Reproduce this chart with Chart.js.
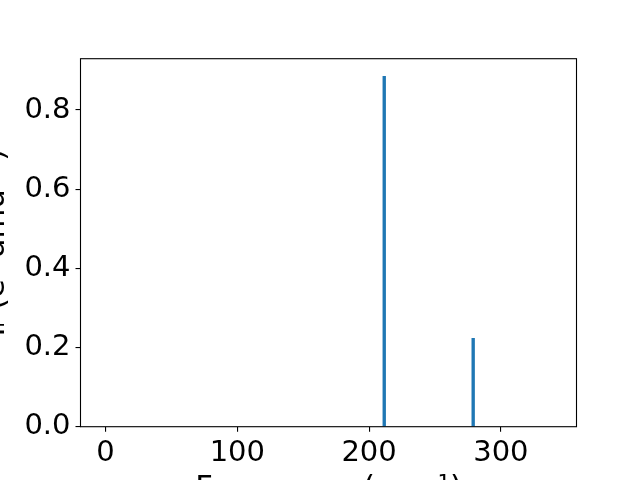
<!DOCTYPE html>
<html>
<head>
<meta charset="utf-8">
<script src="https://cdn.jsdelivr.net/npm/chart.js@4/dist/chart.umd.min.js"></script>
<style>
  html, body { margin: 0; padding: 0; background: #ffffff; overflow: hidden; }
  #c { display: block; }
</style>
</head>
<body>
<canvas id="c" width="640" height="480"></canvas>
<script>
// Data
const frequencies = [211.5, 279.0];      // cm^-1
const intensities = [0.885, 0.223];      // IR intensity
const yTickValues = [0.0, 0.2, 0.4, 0.6, 0.8];
const xTickValues = [0, 100, 200, 300];
const xTitle = 'Frequency (cm\u207B\u00B9)';
const yTitle = 'I\u1D63 (e\u00B2 amu\u207B\u00B9)';

const points = frequencies.map((f, i) => ({ x: f, y: intensities[i] }));

const frame = {
  id: 'frame',
  afterDatasetsDraw(chart) {
    const a = chart.chartArea, ctx = chart.ctx;
    ctx.save();
    ctx.strokeStyle = '#000';
    ctx.lineWidth = 1.1;
    ctx.strokeRect(a.left, a.top, a.right - a.left, a.bottom - a.top);
    ctx.restore();
  }
};

const tickFont = { family: 'DejaVu Sans', size: 29 };
const titleFont = { family: 'DejaVu Sans', size: 30.6 };

new Chart(document.getElementById('c'), {
  type: 'bar',
  data: {
    datasets: [{
      data: points,
      backgroundColor: '#1f77b4',
      borderWidth: 0,
      barThickness: 2.7,
      grouped: false
    }]
  },
  options: {
    responsive: false,
    animation: false,
    events: [],
    layout: { padding: { left: 0, top: 58.7, right: 63.5, bottom: 0 } },
    plugins: { legend: { display: false }, tooltip: { enabled: false } },
    scales: {
      x: {
        type: 'linear',
        offset: false,
        min: -19,
        max: 357.4,
        afterBuildTicks(scale) { scale.ticks = xTickValues.map(v => ({ value: v })); },
        afterFit(scale) { scale.height = 53.3; },
        ticks: {
          font: tickFont, color: '#000', padding: 4, maxRotation: 0,
          includeBounds: false,
          callback: v => String(v)
        },
        grid: {
          display: true, offset: false, drawOnChartArea: false, drawTicks: true,
          tickLength: 5, tickColor: '#000', lineWidth: 1.1
        },
        border: { display: false },
        title: {
          display: true, text: xTitle, color: '#000', font: titleFont,
          padding: { top: 0, bottom: -27.4 }
        }
      },
      y: {
        type: 'linear',
        min: 0,
        max: 0.9296,
        afterBuildTicks(scale) { scale.ticks = yTickValues.map(v => ({ value: v })); },
        afterFit(scale) { scale.width = 80.5; },
        ticks: {
          font: tickFont, color: '#000', padding: 5,
          includeBounds: false,
          callback: v => Number(v).toFixed(1)
        },
        grid: {
          display: true, drawOnChartArea: false, drawTicks: true,
          tickLength: 5, tickColor: '#000', lineWidth: 1.1
        },
        border: { display: false },
        title: {
          display: true, text: yTitle, color: '#000', font: titleFont,
          padding: { top: -22, bottom: 0 }
        }
      }
    }
  },
  plugins: [frame]
});
</script>
</body>
</html>
